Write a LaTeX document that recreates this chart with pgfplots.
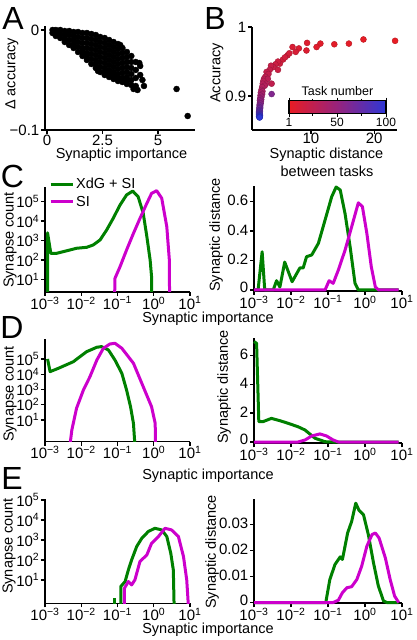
\documentclass[border=0pt]{standalone}
\usepackage{fontspec}
\setmainfont{Liberation Sans}
\usepackage{pgfplots}
\pgfplotsset{compat=1.18}

\definecolor{xdg}{RGB}{0,128,0}
\definecolor{si}{RGB}{204,0,204}

\newcommand{\ten}[1]{10\textsuperscript{#1}}
\newcommand{\lbl}{\fontsize{14.5}{15}\selectfont}
\newcommand{\tck}{\fontsize{15}{15}\selectfont}
\newcommand{\pnl}{\fontsize{32}{32}\selectfont}

\pgfplotsset{
  colormap={task}{rgb255=(232,28,36) rgb255=(150,35,125) rgb255=(45,55,215)},
  panel/.style={
    scale only axis,
    axis lines=left,
    axis line style={-, line width=1.6pt},
    tick align=outside,
    major tick length=4pt,
    tick style={black, line width=1.4pt},
    tick label style={font=\tck, inner sep=1.5pt},
    xticklabel style={yshift=1pt},
    /pgf/number format/assume math mode=true,
    scaled ticks=false,
  },
  % x axes of C-E are in log10 units
  logx/.style={xmin=-3, xmax=1, xtick={-3,-2,-1,0,1},
    xticklabels={\ten{−3},\ten{−2},\ten{−1},\ten{0},\ten{1}}},
  logy/.style={ytick={1,2,3,4,5},
    yticklabels={\ten{1},\ten{2},\ten{3},\ten{4},\ten{5}}},
  dist/.style={yticklabel style={yshift=1pt}, clip=false},
  curve/.style={line width=3pt, line join=round, mark=none},
}

\begin{document}
\begin{tikzpicture}
\useasboundingbox (0pt,0pt) rectangle (416pt,640pt);

% ---------------- A
\begin{axis}[panel, at={(45pt,510pt)}, anchor=south west, width=150pt, height=104pt,
  xmin=-0.09, xmax=6.67, ymin=-0.1, ymax=0.004,
  xtick={0,2.5,5}, xticklabels={0,2.5,5},
  ytick={-0.1,0}, yticklabels={−0.1,0}, clip=false]
\addplot[only marks, mark=*, mark size=3pt, black] coordinates {
(0.25,0) (0.25,-0.003)
(0.4,0) (0.4,-0.003) (0.4,-0.006)
(0.6,0) (0.6,-0.004) (0.6,-0.008)
(0.8,-0.001) (0.8,-0.005) (0.8,-0.009) (0.8,-0.012)
(1.0,-0.001) (1.0,-0.005) (1.0,-0.010) (1.0,-0.015)
(1.2,-0.002) (1.2,-0.006) (1.2,-0.010) (1.2,-0.014) (1.2,-0.018)
(1.4,-0.002) (1.4,-0.007) (1.4,-0.012) (1.4,-0.017) (1.4,-0.022)
(1.6,-0.003) (1.6,-0.008) (1.6,-0.013) (1.6,-0.018) (1.6,-0.022) (1.6,-0.026)
(1.8,-0.003) (1.8,-0.008) (1.8,-0.013) (1.8,-0.018) (1.8,-0.023) (1.8,-0.027) (1.8,-0.030)
(2.0,-0.004) (2.0,-0.009) (2.0,-0.014) (2.0,-0.019) (2.0,-0.024) (2.0,-0.029) (2.0,-0.034)
(2.2,-0.005) (2.2,-0.010) (2.2,-0.015) (2.2,-0.020) (2.2,-0.025) (2.2,-0.030) (2.2,-0.034) (2.2,-0.038)
(2.4,-0.007) (2.4,-0.012) (2.4,-0.017) (2.4,-0.022) (2.4,-0.027) (2.4,-0.032) (2.4,-0.037) (2.4,-0.042)
(2.6,-0.008) (2.6,-0.013) (2.6,-0.018) (2.6,-0.023) (2.6,-0.028) (2.6,-0.033) (2.6,-0.038) (2.6,-0.042) (2.6,-0.045)
(2.8,-0.010) (2.8,-0.015) (2.8,-0.020) (2.8,-0.025) (2.8,-0.030) (2.8,-0.035) (2.8,-0.040) (2.8,-0.044) (2.8,-0.047)
(3.0,-0.012) (3.0,-0.017) (3.0,-0.022) (3.0,-0.027) (3.0,-0.032) (3.0,-0.037) (3.0,-0.042) (3.0,-0.046) (3.0,-0.049)
(3.2,-0.014) (3.2,-0.019) (3.2,-0.024) (3.2,-0.029) (3.2,-0.034) (3.2,-0.039) (3.2,-0.044) (3.2,-0.048) (3.2,-0.051)
(3.4,-0.018) (3.4,-0.023) (3.4,-0.028) (3.4,-0.033) (3.4,-0.038) (3.4,-0.043) (3.4,-0.048) (3.4,-0.052)
(3.6,-0.022) (3.6,-0.027) (3.6,-0.032) (3.6,-0.037) (3.6,-0.042) (3.6,-0.047) (3.6,-0.051) (3.6,-0.054)
(3.8,-0.026) (3.8,-0.032) (3.8,-0.038) (3.8,-0.044) (3.8,-0.050) (3.8,-0.055)
(4.0,-0.032) (4.0,-0.040) (4.0,-0.048) (4.0,-0.056)
(4.2,-0.036) (4.2,-0.045)
(3.3,-0.015) (4.08,-0.060) (4.37,-0.056) (4.16,-0.033) (4.3,-0.050)
(3.9,-0.059) (2.3,-0.041) (5.84,-0.059) (6.34,-0.086)
};
\end{axis}

% ---------------- B
\begin{axis}[panel, at={(252pt,510pt)}, anchor=south west, width=145pt, height=103pt,
  xmin=0.7, xmax=23.6, ymin=0.851, ymax=1.0,
  xtick={10,20}, xticklabels={10,20}, xticklabel style={yshift=1.5pt},
  ytick={0.9,1}, yticklabels={0.9,1}, clip=false,
  colormap name=task, point meta min=1, point meta max=100,
  colorbar horizontal,
  colorbar style={
    at={(parent axis.south west)}, anchor=south west,
    xshift=37pt, yshift=25pt,
    scale only axis, width=97pt, height=13pt,
    xtick={1,50,100}, xticklabels={1,50,100}, minor xtick={25,75},
    tick align=outside, major tick length=3pt, minor tick length=2pt,
    axis line style={line width=1.4pt},
    tick style={black, line width=0.8pt},
    xticklabel style={font=\fontsize{12}{12}\selectfont},
    title={Task number}, title style={font=\fontsize{12.5}{13}\selectfont, yshift=-5pt},
    /pgf/number format/assume math mode=true,
  }]
\addplot[scatter, only marks, mark=*, mark size=3pt, scatter src=explicit]
  table[x=x, y=y, meta=t] {
t x y
1 23.3 0.980
2 18.3 0.982
3 16.0 0.976
4 13.7 0.975
5 11.5 0.976
6 10.9 0.971
7 9.4 0.977
8 9.3 0.966
9 8.1 0.969
10 7.1 0.971
11 7.6 0.964
12 6.3 0.959
13 6.6 0.962
14 5.6 0.953
15 5.9 0.956
16 5.1 0.947
17 4.8 0.950
18 4.4 0.946
19 4.8 0.938
20 4.05 0.942
21 3.7 0.944
22 3.5 0.938
23 3.0 0.935
24 3.3 0.932
25 3.8 0.918
26 2.8 0.928
27 2.6 0.925
28 3.2 0.925
29 2.5 0.922
30 2.9 0.918
31 2.4 0.918
32 2.7 0.915
33 2.3 0.913
35 2.2 0.909
36 2.35 0.907
38 2.1 0.905
40 2.3 0.903
42 2.05 0.901
44 2.2 0.899
46 2.0 0.897
48 2.15 0.895
50 1.95 0.894
52 2.1 0.892
54 1.95 0.890
56 2.05 0.889
58 1.9 0.887
60 3.8 0.903
62 2.0 0.886
64 1.9 0.884
66 2.0 0.883
68 1.85 0.882
70 1.95 0.880
72 1.85 0.879
74 1.95 0.878
76 1.8 0.877
78 1.9 0.876
80 1.85 0.875
82 1.95 0.874
84 1.8 0.874
86 1.9 0.873
88 1.85 0.872
90 1.95 0.872
92 1.8 0.871
94 1.9 0.871
96 1.85 0.870
98 1.95 0.870
100 1.9 0.869
};
\end{axis}

% ---------------- C left
\begin{axis}[panel, logx, logy, at={(45pt,348pt)}, anchor=south west, width=145pt, height=105pt,
  ymin=0.345, ymax=5.76,
  legend style={at={(axis description cs:0.027,1.105)}, anchor=north west, draw=none, fill=none,
    inner sep=0pt, row sep=2pt, font=\lbl, legend cell align=left},
  legend image code/.code={\draw[#1] (0pt,0pt) -- (22pt,0pt);}]
\addplot[curve, xdg] coordinates {
(-2.93,-1) (-2.93,3.4) (-2.84,2.34) (-2.68,2.34) (-2.40,2.47) (-2.13,2.60) (-1.85,2.65)
(-1.67,2.77) (-1.48,3.03) (-1.30,3.54) (-1.12,4.14) (-0.93,4.83) (-0.75,5.35) (-0.58,5.55)
(-0.43,5.26) (-0.29,4.40) (-0.19,3.20) (-0.10,2.00) (-0.06,1.13) (-0.05,-1)
};
\addlegendentry{XdG + SI}
\addplot[curve, si] coordinates {
(-1.09,-1) (-1.07,1.05) (-0.93,1.65) (-0.75,2.51) (-0.56,3.37) (-0.38,4.14) (-0.19,4.92)
(-0.06,5.43) (0.08,5.57) (0.22,5.18) (0.36,3.71) (0.43,2.0) (0.44,-1)
};
\addlegendentry{SI}
\end{axis}

% ---------------- C right
\begin{axis}[panel, logx, dist, at={(254pt,349pt)}, anchor=south west, width=148pt, height=105pt,
  ymin=-0.007, ymax=0.707, ytick={0,0.2,0.4,0.6},
  yticklabels={\raisebox{4pt}{0},0.2,0.4,0.6}]
\addplot[curve, xdg] coordinates {
(-3,0) (-2.89,0) (-2.78,0.26) (-2.71,0) (-2.48,0) (-2.39,0.063) (-2.30,0.02) (-2.17,0.19)
(-1.97,0.056) (-1.76,0.15) (-1.67,0.15) (-1.58,0.226) (-1.44,0.238) (-1.26,0.317)
(-1.08,0.475) (-0.90,0.634) (-0.78,0.70) (-0.67,0.68) (-0.54,0.52) (-0.40,0.29)
(-0.27,0.045) (-0.18,0) (0.91,0)
};
\addplot[curve, si] coordinates {
(-3,0) (-1.08,0) (-0.97,0.063) (-0.86,0.045) (-0.72,0.136) (-0.54,0.27) (-0.36,0.43)
(-0.18,0.593) (-0.07,0.566) (0.05,0.385) (0.17,0.158) (0.28,0.02) (0.37,0) (0.91,0)
};
\end{axis}

% ---------------- D left
\begin{axis}[panel, logx, logy, at={(45pt,198.3pt)}, anchor=south west, width=145pt, height=102.4pt,
  ymin=-0.42, ymax=6.29]
\addplot[curve, xdg] coordinates {
(-2.93,5.0) (-2.86,4.17) (-2.63,4.39) (-2.22,4.82) (-1.85,5.48) (-1.57,5.77) (-1.44,5.81)
(-1.25,5.59) (-1.07,4.93) (-0.88,4.06) (-0.75,2.97) (-0.64,1.87) (-0.56,0.78) (-0.51,-1)
};
\addplot[curve, si] coordinates {
(-2.33,-1) (-2.26,0.34) (-2.13,1.77) (-1.94,2.97) (-1.76,3.84) (-1.57,4.93) (-1.39,5.70)
(-1.21,5.98) (-1.07,6.03) (-0.88,5.70) (-0.56,4.72) (-0.29,3.18) (-0.06,1.87) (0.04,0.78) (0.05,-1)
};
\end{axis}

% ---------------- D right
\begin{axis}[panel, logx, dist, at={(254pt,196.7pt)}, anchor=south west, width=148pt, height=105pt,
  ymin=-0.09, ymax=7.2, ytick={0,2,4,6}, yticklabels={\raisebox{4pt}{0},2,4,6}]
\addplot[curve, xdg] coordinates {
(-3,6.97) (-2.93,6.85) (-2.87,1.41) (-2.76,1.41) (-2.53,1.64) (-2.30,1.48) (-2.08,1.30)
(-1.81,1.06) (-1.62,0.83) (-1.35,0.26) (-1.08,0.02) (-0.87,0) (0.91,0)
};
\addplot[curve, si] coordinates {
(-3,0) (-1.81,0) (-1.62,0.14) (-1.44,0.42) (-1.22,0.56) (-1.04,0.42) (-0.86,0.14) (-0.72,0) (0.91,0)
};
\end{axis}

% ---------------- E left
\begin{axis}[panel, logx, logy, at={(45pt,36.7pt)}, anchor=south west, width=145pt, height=104pt,
  ymin=-0.17, ymax=5.03]
\addplot[curve, xdg] coordinates {(-1.09,-1) (-1.09,0.085)};
\addplot[curve, xdg] coordinates {
(-0.91,-1) (-0.91,0.67) (-0.79,0.92) (-0.70,1.5) (-0.61,2.0) (-0.47,2.67) (-0.33,3.08)
(-0.15,3.42) (0.03,3.58) (0.22,3.5) (0.36,3.17) (0.47,2.33) (0.54,1.5) (0.57,-1)
};
\addplot[curve, si] coordinates {
(-0.81,-1) (-0.81,0.58) (-0.70,0.92) (-0.61,0.75) (-0.52,1.0) (-0.38,1.92) (-0.19,2.25)
(-0.06,2.83) (0.13,3.17) (0.31,3.58) (0.49,3.5) (0.68,3.17) (0.82,2.17) (0.91,1.0) (0.98,-1)
};
\end{axis}

% ---------------- E right
\begin{axis}[panel, logx, dist, at={(254pt,36.7pt)}, anchor=south west, width=148pt, height=104pt,
  ymin=-0.0003, ymax=0.0398, ytick={0,0.01,0.02,0.03},
  yticklabels={\raisebox{2.5pt}{0},0.01,0.02,0.03}]
\addplot[curve, xdg] coordinates {
(-3,0) (-1.06,0) (-0.95,0.0089) (-0.81,0.0147) (-0.67,0.0176) (-0.61,0.0166) (-0.47,0.0268)
(-0.36,0.0313) (-0.25,0.0383) (-0.16,0.0355) (-0.04,0.0338) (0.09,0.0262) (0.23,0.0153)
(0.36,0.0064) (0.50,0.0006) (0.59,0) (0.91,0)
};
\addplot[curve, si] coordinates {
(-3,0) (-0.86,0) (-0.72,0.0009) (-0.61,0.0038) (-0.49,0.0057) (-0.36,0.0061) (-0.22,0.0089)
(-0.09,0.014) (0.05,0.0217) (0.19,0.0262) (0.28,0.0268) (0.38,0.0249) (0.55,0.0172)
(0.68,0.0089) (0.80,0.0025) (0.91,0)
};
\end{axis}

% ---------------- panel letters and axis titles
\node[font=\pnl] at (13pt,621.5pt) {A};
\node[font=\pnl] at (215pt,621.5pt) {B};
\node[font=\pnl] at (12.5pt,463.5pt) {C};
\node[font=\pnl] at (12pt,313pt) {D};
\node[font=\pnl] at (12pt,162pt) {E};

\node[font=\lbl, rotate=90] at (12pt,566pt) {Δ accuracy};
\node[font=\lbl] at (121.5pt,485pt) {Synaptic importance};
\node[font=\lbl, rotate=90] at (217pt,567pt) {Accuracy};
\node[font=\lbl] at (326.5pt,485pt) {Synaptic distance};
\node[font=\lbl] at (327pt,469pt) {between tasks};

\node[font=\lbl, rotate=90] at (10pt,400pt) {Synapse count};
\node[font=\lbl, rotate=90] at (216pt,405pt) {Synaptic distance};
\node[font=\lbl] at (208pt,321pt) {Synaptic importance};

\node[font=\lbl, rotate=90] at (10pt,246pt) {Synapse count};
\node[font=\lbl, rotate=90] at (224pt,253pt) {Synaptic distance};
\node[font=\lbl] at (208pt,164pt) {Synaptic importance};

\node[font=\lbl, rotate=90] at (9pt,94pt) {Synapse count};
\node[font=\lbl, rotate=90] at (212pt,88pt) {Synaptic distance};
\node[font=\lbl] at (208pt,10pt) {Synaptic importance};
\end{tikzpicture}
\end{document}
